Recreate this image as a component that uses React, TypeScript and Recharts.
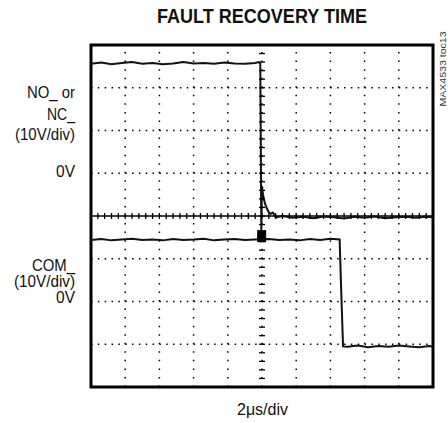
import React from 'react';
import { ComposedChart, Line, Scatter, XAxis, YAxis, ReferenceLine, ReferenceArea } from 'recharts';

const W = 448;
const H = 423;
const FONT = '"Liberation Sans", Arial, sans-serif';

// scope graticule: 10 x 8 divisions, 5 minor marks per division
const X_DIVS = [1, 2, 3, 4, 5, 6, 7, 8, 9];
const Y_DIVS = [-3, -2, -1, 1, 2, 3];
const MINOR_X = Array.from({ length: 49 }, (_, i) => (i + 1) / 5);
const MINOR_Y = Array.from({ length: 39 }, (_, i) => -4 + (i + 1) / 5);

// NO_/NC_ trace: x in 2us divisions, y in 10V divisions from screen centre
const noTime = [0, 0.3, 0.6, 0.9, 1.2, 1.5, 1.8, 2.1, 2.4, 2.7, 3.0, 3.3, 3.6, 3.9, 4.2, 4.5, 4.8, 4.9, 4.95, 4.98, 5.0, 5.03, 5.06, 5.1, 5.14, 5.19, 5.25, 5.32, 5.4, 5.6, 5.9, 6.2, 6.5, 6.8, 7.1, 7.4, 7.7, 8.0, 8.3, 8.6, 8.9, 9.2, 9.5, 9.8, 10];
const noLevel = [3.56, 3.59, 3.55, 3.58, 3.6, 3.56, 3.58, 3.55, 3.57, 3.6, 3.57, 3.58, 3.56, 3.59, 3.57, 3.56, 3.58, 3.6, 3.57, -0.35, 0.7, 0.5, 0.38, 0.26, 0.18, 0.1, 0.05, 0.08, -0.03, 0.0, -0.04, -0.02, -0.05, -0.01, -0.03, -0.06, -0.02, -0.04, -0.01, -0.05, -0.03, -0.02, -0.04, -0.02, -0.03];

// COM_ trace
const comTime = [0, 0.3, 0.6, 0.9, 1.2, 1.5, 1.8, 2.1, 2.4, 2.7, 3.0, 3.3, 3.6, 3.9, 4.2, 4.5, 4.8, 5.2, 5.5, 5.8, 6.1, 6.4, 6.7, 7.0, 7.27, 7.31, 7.37, 7.5, 7.8, 8.1, 8.4, 8.7, 9.0, 9.3, 9.6, 9.9, 10];
const comLevel = [-0.56, -0.54, -0.57, -0.55, -0.53, -0.56, -0.55, -0.57, -0.54, -0.56, -0.55, -0.53, -0.57, -0.55, -0.54, -0.56, -0.55, -0.54, -0.56, -0.55, -0.57, -0.54, -0.56, -0.53, -0.55, -1.6, -3.05, -3.06, -3.03, -3.07, -3.04, -3.06, -3.03, -3.05, -3.07, -3.04, -3.06];

// trigger marker on the COM_ trace
const markerTime = [4.99];
const markerLevel = [-0.47];

const noData = noTime.map((x, i) => ({ x, y: noLevel[i] }));
const comData = comTime.map((x, i) => ({ x, y: comLevel[i] }));
const markerData = markerTime.map((x, i) => ({ x, y: markerLevel[i] }));
const hTickData = MINOR_X.map((x) => ({ x, y: 0 }));
const vTickData = MINOR_Y.map((y) => ({ x: 5, y }));

const HTick = (p: any) => <line x1={p.cx} x2={p.cx} y1={p.cy - 3} y2={p.cy + 3} stroke="#000" strokeWidth={1.3} />;
const VTick = (p: any) => <line x1={p.cx - 3} x2={p.cx + 3} y1={p.cy} y2={p.cy} stroke="#000" strokeWidth={1.3} />;
const Square = (p: any) => <rect x={p.cx - 4.5} y={p.cy - 6} width={9} height={12} fill="#000" />;

// left-hand labels: text, baseline y, squeezed width
const leftLabels: [string, number, number][] = [
  ['NO_ or', 98, 48],
  ['NC_', 120, 28],
  ['(10V/div)', 140, 60],
  ['0V', 177, 19],
  ['COM_', 271, 43],
  ['(10V/div)', 287, 61],
  ['0V', 303, 19],
];

export default function App() {
  return (
    <div style={{ position: 'absolute', left: 0, top: 0, width: W, height: H, background: '#fff' }}>
      <ComposedChart width={W} height={H} margin={{ top: 45, right: 15, bottom: 36, left: 91 }}>
        <XAxis type="number" dataKey="x" domain={[0, 10]} hide />
        <YAxis type="number" dataKey="y" domain={[-4, 4]} hide />
        {X_DIVS.map((v) => (
          <ReferenceLine key={'x' + v} x={v} stroke="#000" strokeWidth={1.5} strokeDasharray="1.5 7.05" />
        ))}
        {Y_DIVS.map((v) => (
          <ReferenceLine key={'y' + v} y={v} stroke="#000" strokeWidth={1.5} strokeDasharray="1.5 5.34" />
        ))}
        <ReferenceLine y={0} stroke="#000" strokeWidth={1.5} />
        <Scatter data={hTickData} dataKey="y" shape={HTick} isAnimationActive={false} />
        <Scatter data={vTickData} dataKey="y" shape={VTick} isAnimationActive={false} />
        <Line data={noData} dataKey="y" stroke="#111" strokeWidth={2} dot={false} isAnimationActive={false} />
        <Line data={comData} dataKey="y" stroke="#111" strokeWidth={2} dot={false} isAnimationActive={false} />
        <Scatter data={markerData} dataKey="y" shape={Square} isAnimationActive={false} />
        <ReferenceArea x1={0} x2={10} y1={-4} y2={4} fill="none" fillOpacity={0} stroke="#000" strokeWidth={3} />
      </ComposedChart>
      <svg width={W} height={H} style={{ position: 'absolute', left: 0, top: 0, pointerEvents: 'none' }}>
        <text x={262} y={23} textAnchor="middle" textLength={210} lengthAdjust="spacingAndGlyphs" style={{ fontFamily: FONT, fontSize: 20, fontWeight: 'bold' }} fill="#111">
          FAULT RECOVERY TIME
        </text>
        {leftLabels.map(([t, y, w], i) => (
          <text key={i} x={75 - w} y={y} textLength={w} lengthAdjust="spacingAndGlyphs" style={{ fontFamily: FONT, fontSize: 16 }} fill="#111">
            {t}
          </text>
        ))}
        <text x={237} y={415} textLength={51} lengthAdjust="spacingAndGlyphs" style={{ fontFamily: FONT, fontSize: 16 }} fill="#111">2μs/div</text>
        <text x={443} y={69} textAnchor="middle" dominantBaseline="central" textLength={75} lengthAdjust="spacingAndGlyphs" transform="rotate(-90 443 69)" style={{ fontFamily: FONT, fontSize: 9 }} fill="#333">
          MAX4533 toc13
        </text>
      </svg>
    </div>
  );
}
